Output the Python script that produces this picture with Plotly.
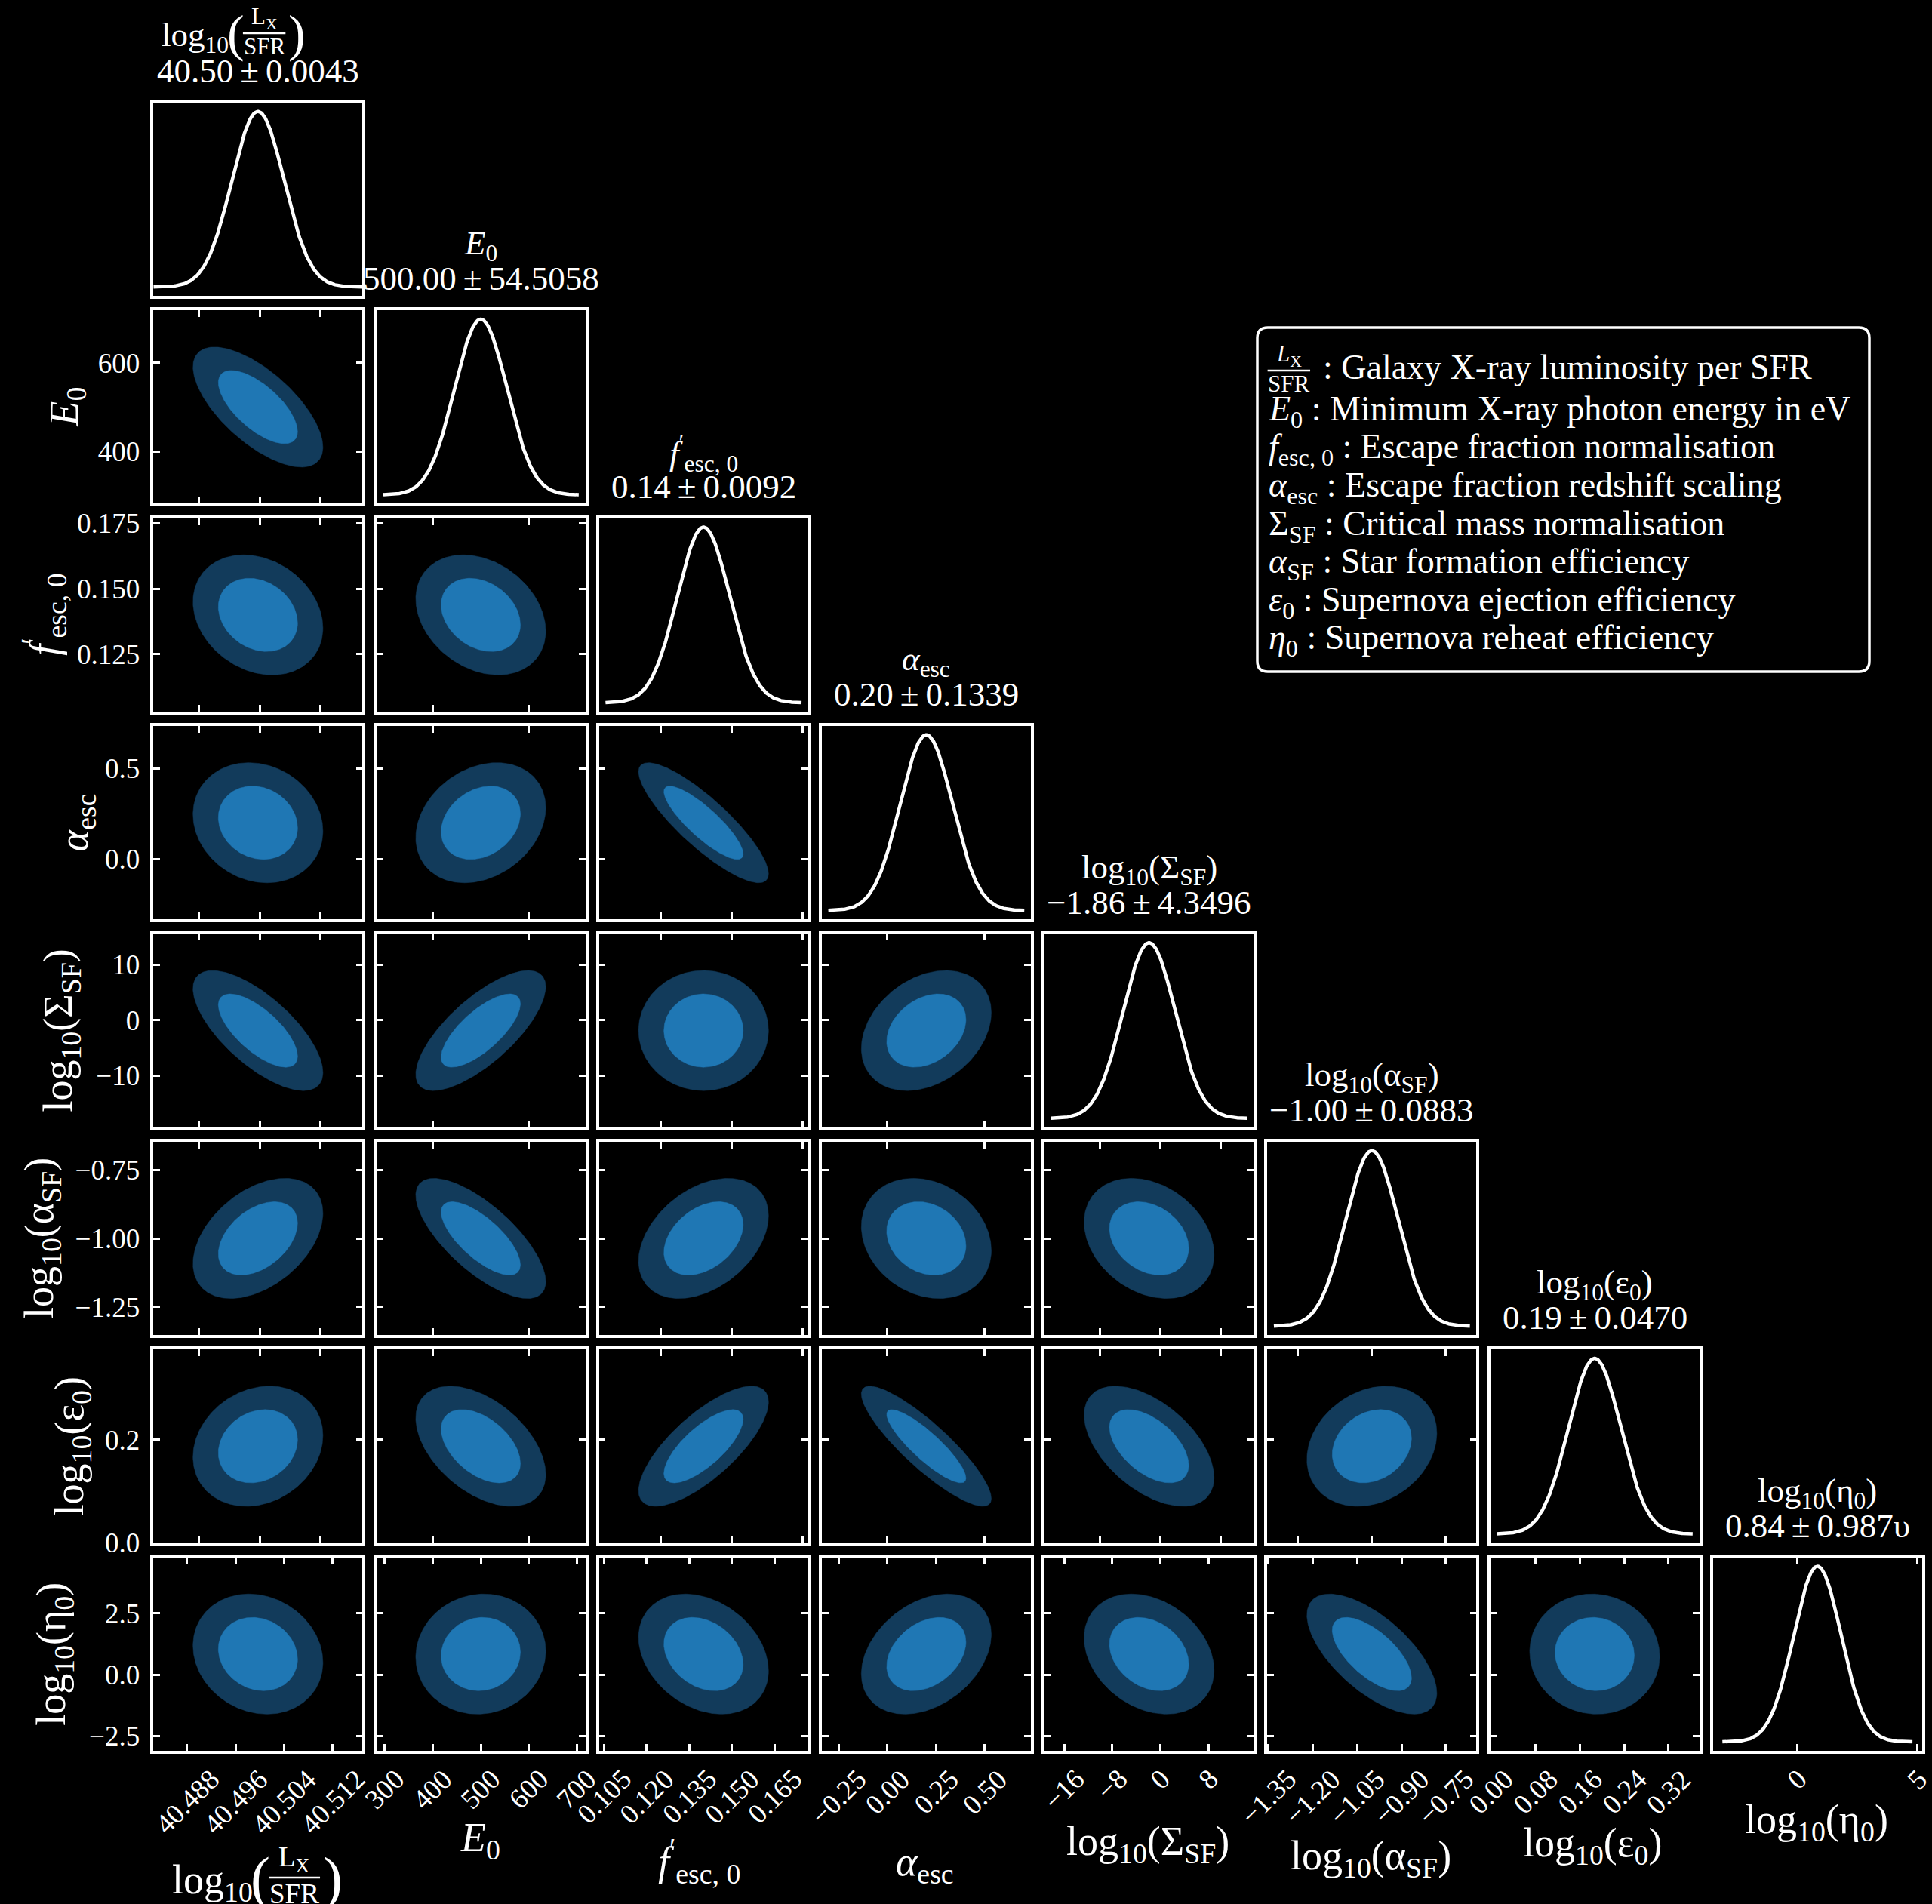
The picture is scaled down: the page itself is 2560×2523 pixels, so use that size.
import numpy as np
import plotly.graph_objects as go

W, H = 2560, 2523
FONT = "Liberation Serif, Times New Roman, serif"

# ---------------------------------------------------------------------------
# Parameter summaries: forecast mean and 1-sigma error
# ---------------------------------------------------------------------------
MEANS = [40.4997, 500.0, 0.140, 0.200, -1.86, -1.00, 0.187, 0.84]
SIGMAS = [0.0043, 54.5058, 0.0092, 0.1339, 4.3496, 0.0883, 0.0470, 0.9870]

VALUE_LABELS = [
    "40.50\u2009±\u20090.0043",
    "500.00\u2009±\u200954.5058",
    "0.14\u2009±\u20090.0092",
    "0.20\u2009±\u20090.1339",
    "\u22121.86\u2009±\u20094.3496",
    "\u22121.00\u2009±\u20090.0883",
    "0.19\u2009±\u20090.0470",
    "0.84\u2009±\u20090.987\u03c5",
]

# pairwise correlation coefficients, row parameter against column parameter
CORR_ROWS = [
    [],
    [-0.67],
    [-0.22, -0.27],
    [-0.14, 0.25, -0.85],
    [-0.70, 0.73, 0.00, 0.30],
    [0.42, -0.72, 0.38, -0.20, -0.27],
    [0.18, -0.47, 0.74, -0.87, -0.52, 0.22],
    [-0.14, 0.05, -0.28, 0.33, -0.27, -0.65, -0.04],
]

# axis labels (first one is the L_X / SFR fraction, drawn separately)
AXIS_LABELS = [
    None,
    "<i>E</i><sub>0</sub>",
    "<i>f</i><sup>\u2032</sup><sub>esc, 0</sub>",
    "<i>\u03b1</i><sub>esc</sub>",
    "log<sub>10</sub>(\u03a3<sub>SF</sub>)",
    "log<sub>10</sub>(\u03b1<sub>SF</sub>)",
    "log<sub>10</sub>(\u03b5<sub>0</sub>)",
    "log<sub>10</sub>(\u03b7<sub>0</sub>)",
]

# ticks used inside the grid (y axes and the upper rows' x axes)
INNER_TICKS = [
    [40.49, 40.50, 40.51],
    [400, 600],
    [0.125, 0.150, 0.175],
    [0.0, 0.5],
    [-10, 0, 10],
    [-1.25, -1.00, -0.75],
    [0.0, 0.2],
    [-2.5, 0.0, 2.5],
]
Y_TICK_TEXT = [
    None,
    ["400", "600"],
    ["0.125", "0.150", "0.175"],
    ["0.0", "0.5"],
    ["\u221210", "0", "10"],
    ["\u22121.25", "\u22121.00", "\u22120.75"],
    ["0.0", "0.2"],
    ["\u22122.5", "0.0", "2.5"],
]
# ticks of the bottom row
BOTTOM_TICKS = [
    [40.488, 40.496, 40.504, 40.512],
    [300, 400, 500, 600, 700],
    [0.105, 0.120, 0.135, 0.150, 0.165],
    [-0.25, 0.0, 0.25, 0.50],
    [-16, -8, 0, 8],
    [-1.35, -1.20, -1.05, -0.90, -0.75],
    [0.00, 0.08, 0.16, 0.24, 0.32],
    [0, 5],
]
BOTTOM_TICK_TEXT = [
    ["40.488", "40.496", "40.504", "40.512"],
    ["300", "400", "500", "600", "700"],
    ["0.105", "0.120", "0.135", "0.150", "0.165"],
    ["\u22120.25", "0.00", "0.25", "0.50"],
    ["\u221216", "\u22128", "0", "8"],
    ["\u22121.35", "\u22121.20", "\u22121.05", "\u22120.90", "\u22120.75"],
    ["0.00", "0.08", "0.16", "0.24", "0.32"],
    ["0", "5"],
]

LEGEND_SYMBOLS = [
    None,
    "<i>E</i><sub>0</sub>",
    "<i>f</i><sub>esc, 0</sub>",
    "<i>\u03b1</i><sub>esc</sub>",
    "\u03a3<sub>SF</sub>",
    "<i>\u03b1</i><sub>SF</sub>",
    "<i>\u03b5</i><sub>0</sub>",
    "<i>\u03b7</i><sub>0</sub>",
]
LEGEND_TEXT = [
    "Galaxy X-ray luminosity per SFR",
    "Minimum X-ray photon energy in eV",
    "Escape fraction normalisation",
    "Escape fraction redshift scaling",
    "Critical mass normalisation",
    "Star formation efficiency",
    "Supernova ejection efficiency",
    "Supernova reheat efficiency",
]

# ---------------------------------------------------------------------------
# Geometry / style
# ---------------------------------------------------------------------------
N = len(MEANS)
COL_LEFT, COL_PITCH, PANEL_W = 203.3, 295.2, 277.0
ROW_TOP, ROW_PITCH, PANEL_H = 136.0, 275.4, 256.0
FRAME_W = 3.5
OUTER_FILL = "#123b5b"
INNER_FILL = "#1f77b4"
R_INNER = np.sqrt(2.30)   # 68% region, 2 dof
R_OUTER = np.sqrt(6.18)   # 95% region, 2 dof
TICK_SIZE = 37
TITLE_SIZE = 45
LABEL_SIZE = 54
LEGEND_SIZE = 46


def px2x(px):
    return px / W


def px2y(py):
    return 1.0 - py / H


def axis_suffix(k):
    return "" if k == 1 else str(k)


def axis_range(j, diag=False):
    span = 4.4 if (diag and j == N - 1) else 4.0
    return [MEANS[j] - span * SIGMAS[j], MEANS[j] + span * SIGMAS[j]]


def ellipse(mx, my, sx, sy, rho, r):
    t = np.linspace(0, 2 * np.pi, 241)
    cov = np.array([[sx * sx, rho * sx * sy], [rho * sx * sy, sy * sy]])
    L = np.linalg.cholesky(cov)
    pts = L @ np.vstack([np.cos(t), np.sin(t)]) * r
    return mx + pts[0], my + pts[1]


def text_ann(text, x_px, y_px, size, xanchor="center", yanchor="middle", angle=0):
    return dict(text=text, x=px2x(x_px), y=px2y(y_px), xref="paper", yref="paper",
                xanchor=xanchor, yanchor=yanchor, showarrow=False, textangle=angle,
                font=dict(family=FONT, size=size, color="white"))


fig = go.Figure()
layout = dict(
    width=W, height=H,
    margin=dict(l=0, r=0, t=0, b=0, pad=0, autoexpand=False),
    paper_bgcolor="black", plot_bgcolor="black", showlegend=False,
    hovermode=False, font=dict(family=FONT, color="white"),
)
annotations = []
shapes = []

base_axis = dict(showline=True, linecolor="white", linewidth=FRAME_W, showgrid=False,
                 zeroline=False, ticklen=9, tickwidth=2.5, tickcolor="white",
                 tickfont=dict(family=FONT, size=TICK_SIZE, color="white"),
                 fixedrange=True, automargin=False)

k = 0
bottom_axis_ids = {}
for i in range(N):
    for j in range(i + 1):
        k += 1
        sfx = axis_suffix(k)
        x0 = COL_LEFT + j * COL_PITCH
        y0 = ROW_TOP + i * ROW_PITCH
        xdom = [px2x(x0), px2x(x0 + PANEL_W)]
        ydom = [px2y(y0 + PANEL_H), px2y(y0)]
        diag = i == j
        xa = dict(base_axis, domain=xdom, anchor="y" + sfx, range=axis_range(j, diag),
                  showticklabels=False)
        ya = dict(base_axis, domain=ydom, anchor="x" + sfx, showticklabels=False)
        if diag:
            ya.update(range=[-0.05, 1.05], ticks="", mirror=True)
            if j == N - 1:
                xa.update(ticks="inside", mirror="ticks", tickmode="array",
                          tickvals=BOTTOM_TICKS[j])
            else:
                xa.update(ticks="", mirror=True)
            # 1D marginal
            half = 4.0 if j in (0, N - 1) else 3.75
            xs = np.linspace(MEANS[j] - half * SIGMAS[j], MEANS[j] + half * SIGMAS[j], 300)
            ys = np.exp(-0.5 * ((xs - MEANS[j]) / SIGMAS[j]) ** 2)
            fig.add_trace(go.Scatter(x=xs, y=ys, mode="lines",
                                     line=dict(color="white", width=4.5),
                                     xaxis="x" + sfx, yaxis="y" + sfx, hoverinfo="skip"))
        else:
            xt = BOTTOM_TICKS[j] if i == N - 1 else INNER_TICKS[j]
            xa.update(ticks="inside", mirror="ticks", tickmode="array", tickvals=xt)
            ya.update(range=axis_range(i), ticks="inside", mirror="ticks", tickmode="array",
                      tickvals=INNER_TICKS[i])
            if j == 0:
                ya.update(showticklabels=True, ticktext=Y_TICK_TEXT[i], ticklabelstandoff=7)
            rho = CORR_ROWS[i][j]
            for r, col in ((R_OUTER, OUTER_FILL), (R_INNER, INNER_FILL)):
                ex, ey = ellipse(MEANS[j], MEANS[i], SIGMAS[j], SIGMAS[i], rho, r)
                fig.add_trace(go.Scatter(x=ex, y=ey, mode="lines", fill="toself",
                                         fillcolor=col, line=dict(color=col, width=0.5),
                                         xaxis="x" + sfx, yaxis="y" + sfx,
                                         hoverinfo="skip"))
        if i == N - 1:
            bottom_axis_ids[j] = sfx
        layout["xaxis" + sfx] = xa
        layout["yaxis" + sfx] = ya

# rotated tick labels along the bottom row
bottom_px = ROW_TOP + (N - 1) * ROW_PITCH + PANEL_H
for j in range(N):
    for v, t in zip(BOTTOM_TICKS[j], BOTTOM_TICK_TEXT[j]):
        annotations.append(dict(
            text=t, x=v, xref="x" + bottom_axis_ids[j], y=px2y(bottom_px + 14), yref="paper",
            xanchor="center", yanchor="top", textangle=-45, showarrow=False,
            font=dict(family=FONT, size=TICK_SIZE, color="white")))


def add_fraction(x_left, cy, fs, numer, denom, log_size=None, paren_size=None):
    """log10( numer / denom ) built from pieces; returns right edge."""
    x = x_left
    if log_size:
        annotations.append(text_ann("log<sub>10</sub>", x, cy + 0.12 * log_size, log_size,
                                    xanchor="left"))
        x += 1.93 * log_size
        annotations.append(text_ann("(", x, cy, paren_size, xanchor="left"))
        x += 0.33 * paren_size
    fw = 1.86 * fs
    annotations.append(text_ann(numer, x + fw / 2, cy - 0.66 * fs, fs))
    annotations.append(text_ann(denom, x + fw / 2, cy + 0.58 * fs, fs))
    shapes.append(dict(type="line", xref="paper", yref="paper",
                       x0=px2x(x + 0.02 * fs), x1=px2x(x + fw - 0.02 * fs),
                       y0=px2y(cy), y1=px2y(cy), line=dict(color="white", width=2.5)))
    x += fw
    if log_size:
        annotations.append(text_ann(")", x + 0.02 * paren_size, cy, paren_size,
                                    xanchor="left"))
    return x


# titles above the diagonal panels
for j in range(N):
    top = ROW_TOP + j * ROW_PITCH
    cx = COL_LEFT + j * COL_PITCH + PANEL_W / 2
    annotations.append(text_ann(VALUE_LABELS[j], cx, top - 42, TITLE_SIZE))
    if j == 0:
        add_fraction(212, 44, 31, "L<sub>X</sub>", "SFR", log_size=TITLE_SIZE, paren_size=68)
    else:
        annotations.append(text_ann(AXIS_LABELS[j], cx, top - 86, TITLE_SIZE))

# y-axis labels of the left column
LEFT_LABEL_X = [None, 88, 58, 101, 81, 55, 95, 72]
for i in range(1, N):
    cy = ROW_TOP + i * ROW_PITCH + PANEL_H / 2
    annotations.append(text_ann(AXIS_LABELS[i], LEFT_LABEL_X[i], cy, LABEL_SIZE, angle=-90))

# x-axis labels under the bottom row
BOTTOM_LABEL_POS = [None, (636, 2438), (926, 2466), (1225, 2470), (1521, 2443),
                    (1816, 2462), (2110, 2445), (2407, 2414)]
add_fraction(226, 2488, 37, "L<sub>X</sub>", "SFR", log_size=54, paren_size=78)
for j in range(1, N):
    px, py = BOTTOM_LABEL_POS[j]
    annotations.append(text_ann(AXIS_LABELS[j], px, py, LABEL_SIZE))

# parameter glossary box
bx0, bx1, by0, by1, rad = 1666, 2477, 434, 890, 14
rx, ry = rad / W, rad / H
X0, X1, Y0, Y1 = px2x(bx0), px2x(bx1), px2y(by0), px2y(by1)
path = (f"M {X0 + rx},{Y0} L {X1 - rx},{Y0} Q {X1},{Y0} {X1},{Y0 - ry} "
        f"L {X1},{Y1 + ry} Q {X1},{Y1} {X1 - rx},{Y1} L {X0 + rx},{Y1} "
        f"Q {X0},{Y1} {X0},{Y1 + ry} L {X0},{Y0 - ry} Q {X0},{Y0} {X0 + rx},{Y0} Z")
shapes.append(dict(type="path", xref="paper", yref="paper", path=path,
                   line=dict(color="white", width=3.5), fillcolor="black", layer="above"))

legend_x = 1679
add_fraction(legend_x, 491, 31, "<i>L</i><sub>X</sub>", "SFR")
annotations.append(text_ann(": " + LEGEND_TEXT[0], legend_x + 72, 486, LEGEND_SIZE,
                            xanchor="left"))
for n in range(1, N):
    cy = 545 + (n - 1) * 50.5
    annotations.append(text_ann(LEGEND_SYMBOLS[n] + " : " + LEGEND_TEXT[n], legend_x, cy,
                                LEGEND_SIZE, xanchor="left"))

layout["annotations"] = annotations
layout["shapes"] = shapes
fig.update_layout(**layout)
fig.write_html("out.html")
